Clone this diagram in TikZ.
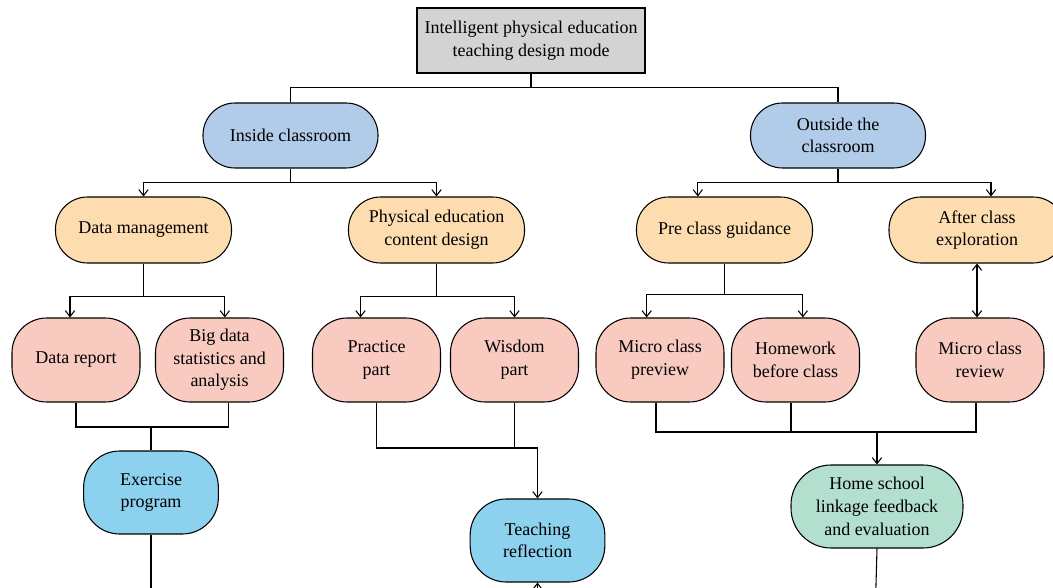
\documentclass[tikz,border=0pt]{standalone}
\usepackage{fontspec}
\setmainfont{Liberation Serif}
\usetikzlibrary{arrows.meta}
\definecolor{titlegray}{HTML}{D3D3D3}
\definecolor{topblue}{HTML}{B0CCE9}
\definecolor{peach}{HTML}{FDDDB0}
\definecolor{pinkleaf}{HTML}{F8CAC0}
\definecolor{skyb}{HTML}{8CD1EE}
\definecolor{mintg}{HTML}{B3DFCF}
\begin{document}
\begin{tikzpicture}[x=0.75pt,y=-0.75pt, line width=0.8pt,
 font=\fontsize{13.5}{17}\selectfont,
 box/.style={draw, align=center, inner sep=0pt},
 titlebox/.style={box, fill=titlegray, minimum width=171pt, minimum height=48.75pt},
 lvlone/.style={box, fill=topblue, rounded corners=24pt, minimum width=131.25pt, minimum height=48.75pt},
 lvltwo/.style={box, fill=peach, rounded corners=24pt, minimum width=132pt, minimum height=49.5pt},
 leaf/.style={box, fill=pinkleaf, rounded corners=26pt, minimum width=96pt, minimum height=63pt},
 result/.style={box, fill=skyb, rounded corners=27pt, minimum width=101pt, minimum height=62.25pt},
 final/.style={box, fill=mintg, rounded corners=30pt, minimum width=129pt, minimum height=62.25pt},
 arr/.style={-{Straight Barb[length=4.5pt,width=7pt]}},
 arrb/.style={{Straight Barb[length=4.5pt,width=7pt]}-{Straight Barb[length=4.5pt,width=7pt]}}
]
\useasboundingbox (0,0) rectangle (1053,588);
\clip (0,0) rectangle (1053,588);

% nodes
\node[titlebox] (title) at (531,40.5) {Intelligent physical education\\teaching design mode};
\node[lvlone] (inside) at (290.5,135.5) {Inside classroom};
\node[lvlone] (outside) at (838,135.5) {Outside the\\classroom};
\node[lvltwo] (dm) at (143.5,230) {Data management};
\node[lvltwo] (pe) at (436.5,230) {Physical education\\content design};
\node[lvltwo] (pre) at (724.5,230) {Pre class guidance};
\node[lvltwo] (after) at (977,230) {After class\\exploration};
\node[leaf] (dr) at (76,360) {Data report};
\node[leaf] (bd) at (219.5,360) {Big data\\statistics and\\analysis};
\node[leaf] (pr) at (376.5,360) {Practice\\part};
\node[leaf] (wi) at (514.5,360) {Wisdom\\part};
\node[leaf] (mp) at (660,360) {Micro class\\preview};
\node[leaf] (hw) at (795.5,360) {Homework\\before class};
\node[leaf] (mr) at (980,360) {Micro class\\review};
\node[result] (ex) at (151,492.5) {Exercise\\program};
\node[result] (tr) at (537.5,540.5) {Teaching\\reflection};
\node[final] (hs) at (877,506.5) {Home school\\linkage feedback\\and evaluation};

% free ends below the frame
\coordinate (exo) at (151,620);
\coordinate (tro) at (537.5,620);
\coordinate (hso) at (875,620);

% title to level one
\draw (title.south) -- ++(0,14) coordinate (t1);
\draw (t1) -| (inside.north);
\draw (t1) -| (outside.north);

% level one to level two
\draw (inside.south) -- ++(0,14) coordinate (i1);
\draw[arr] (i1) -| (dm.north);
\draw[arr] (i1) -| (pe.north);
\draw (outside.south) -- ++(0,14) coordinate (o1);
\draw[arr] (o1) -| ([xshift=-20pt]pre.north);
\draw[arr] (o1) -| ([xshift=10.5pt]after.north);

% level two to leaves
\draw (dm.south) -- ++(0,33) coordinate (d1);
\draw[arr] (d1) -| ([xshift=-4.5pt]dr.north);
\draw[arr] (d1) -| ([xshift=4pt]bd.north);
\draw (pe.south) -- ++(0,33) coordinate (p0);
\draw[arr] (p0) -| ([xshift=-12pt]pr.north);
\draw[arr] (p0) -| (wi.north);
\draw (pre.south) -- ++(0,31) coordinate (q1);
\draw[arr] (q1) -| ([xshift=-10pt]mp.north);
\draw[arr] (q1) -| ([xshift=5.5pt]hw.north);
\draw[arrb] (after.south) -- (after.south |- mr.north);

% leaves to results
\coordinate (e1) at (151,427);
\draw (dr.south) |- (e1);
\draw ([xshift=7pt]bd.south) |- (e1);
\draw (e1) -- (ex.north);
\coordinate (p1) at (537.5,448);
\draw (pr.south) |- (p1);
\draw (wi.south) -- (wi.south |- p1);
\draw[arr] (p1) -- (tr.north);
\coordinate (h1) at (877,432);
\draw ([xshift=-3pt]mp.south) |- ([xshift=-3pt]mr.south |- h1) -- ([xshift=-3pt]mr.south);
\draw ([xshift=-3.4pt]hw.south) -- ([xshift=-3.4pt]hw.south |- h1);
\draw[arr] (h1) -- (hs.north);

% continuing below the frame
\draw (ex.south) -- (exo);
\draw[arr] (tro) -- (tr.south);
\draw (hs.south) -- (hso);
\end{tikzpicture}
\end{document}
